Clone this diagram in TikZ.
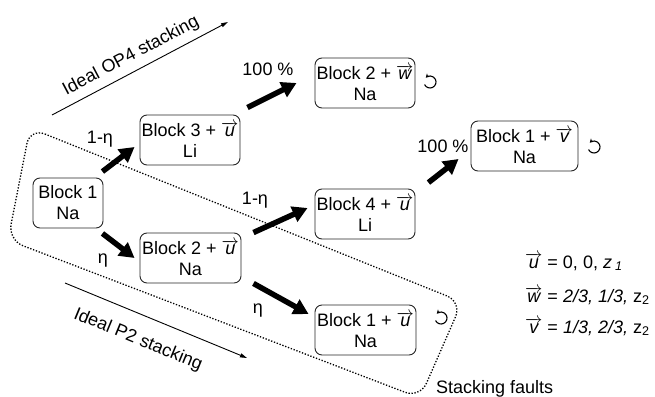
\documentclass[tikz,border=0pt]{standalone}
\usepackage{fontspec}
\setmainfont{Liberation Sans}
\usetikzlibrary{arrows.meta,calc}
\newcommand{\vecl}[1]{\ensuremath{\overrightarrow{\textit{#1}}}}
\begin{document}
\begin{tikzpicture}[x=1pt,y=-1pt,
  font=\fontsize{18}{21}\selectfont,
  blk/.style={draw=black!85, line width=0.9pt, rounded corners=7pt, align=center,
    minimum height=50pt, inner sep=0pt},
  big/.style={line width=5.5pt, -{Triangle[length=15pt,width=16pt]}},
  thinarr/.style={line width=0.9pt, -{Triangle[length=7pt,width=4pt]}},
  fault/.style={line width=1.3pt, dash pattern=on 1.3pt off 1.7pt, rounded corners=16pt},
  rot/.style={line width=1.1pt, -{Stealth[length=4pt,width=4.5pt]}},
  lbl/.style={anchor=base, inner sep=0pt},
]
\useasboundingbox (0,0) rectangle (655,396);

% stacking-fault outline
\draw[fault] (30,128) -- (462,302) -- (420,398) -- (8,240) -- cycle;

% blocks
\node[blk, minimum width=70pt]  (b1)  at (68,203)    {Block 1\\Na};
\node[blk, minimum width=100pt] (b3)  at (190,140)   {Block 3 + \vecl{u}\\Li};
\node[blk, minimum width=100pt] (b2w) at (365,83)    {Block 2 + \vecl{w}\\Na};
\node[blk, minimum width=107pt] (b1v) at (524.5,146) {Block 1 + \vecl{v}\\Na};
\node[blk, minimum width=100pt] (b4)  at (365,214)   {Block 4 + \vecl{u}\\Li};
\node[blk, minimum width=101pt] (b2u) at (190.5,258) {Block 2 + \vecl{u}\\Na};
\node[blk, minimum width=101pt] (b1u) at (365.5,330) {Block 1 + \vecl{u}\\Na};

% thick arrows
\draw[big] ($(b1.north east)+(-1,-6)$) -- ($(b3.west)+(-5,7)$);
\draw[big] ($(b3.north east)+(7,-7)$) -- ($(b2w.west)+(-18,0)$);
\draw[big] ($(b1.south east)+(-1,5)$) -- ($(b2u.west)+(-5,0)$);
\draw[big] ($(b2u.north east)+(12,0)$) -- ($(b4.west)+(-7,-6)$);
\draw[big] ($(b2u.south east)+(12,0)$) -- ($(b1u.west)+(-6,-16)$);
\draw[big] ($(b4.north east)+(13,-6)$) -- ($(b1v.west)+(-12,13)$);

% probability labels
\node[lbl] (p1) at (100,143) {1-η};
\node[lbl] (p2) at (103,263) {η};
\node[lbl] (p3) at (268,75)  {100 \%};
\node[lbl] (p4) at (255,204) {1-η};
\node[lbl] (p5) at (258,313) {η};
\node[lbl] (p6) at (443,152) {100 \%};

% rotation marks
\foreach \cx/\cy in {430/82,594/147,441/318}{
  \begin{scope}[shift={(\cx,\cy)}, yscale=-1]
    \draw[rot] (205:6) arc (205:495:6);
  \end{scope}
}

% stacking direction arrows
\coordinate (op4a) at (52,115);
\coordinate (op4b) at (228,22);
\draw[thinarr] (op4a) -- (op4b);
\node[rotate=27.9] (op4t) at (131,56) {Ideal OP4 stacking};
\coordinate (p2a) at (65,283);
\coordinate (p2b) at (247,358);
\draw[thinarr] (p2a) -- (p2b);
\node[rotate=-22.4] (p2t) at (138,340) {Ideal P2 stacking};

% stacking faults label
\node[anchor=base west, inner sep=0pt] (sf) at (436,393) {Stacking faults};

% legend
\node[anchor=base west, inner sep=0pt] (lu) at (525,268) {\vecl{u} = 0, 0, \textit{z}\,\textsubscript{\textit{1}}};
\node[anchor=base west, inner sep=0pt] (lw) at (525,302) {\vecl{w} = \textit{2/3, 1/3,} z\textsubscript{2}};
\node[anchor=base west, inner sep=0pt] (lv) at (525,333) {\vecl{v} = \textit{1/3, 2/3,} z\textsubscript{2}};
\end{tikzpicture}
\end{document}
